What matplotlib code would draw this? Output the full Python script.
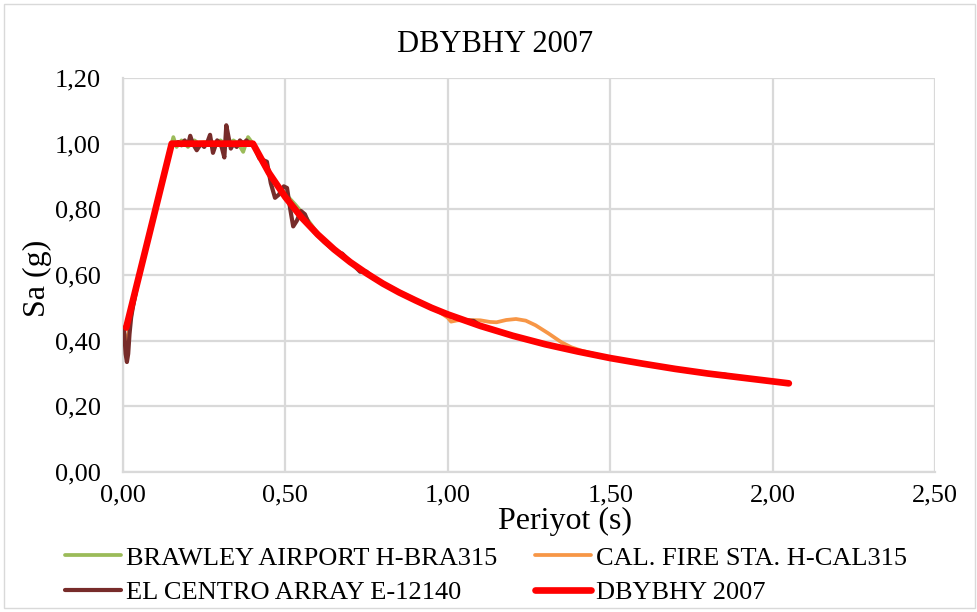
import matplotlib
matplotlib.use("Agg")
import matplotlib.pyplot as plt
from matplotlib.patches import Rectangle

plt.rcParams['font.family'] = ['Liberation Serif', 'DejaVu Serif']

# design spectrum DBYBHY 2007
dbybhy_t = [0.01, 0.15, 0.40, 0.45, 0.50, 0.55, 0.60, 0.65, 0.70, 0.75, 0.80, 0.85,
            0.90, 0.95, 1.00, 1.10, 1.20, 1.30, 1.40, 1.50, 1.60, 1.70, 1.80,
            1.90, 2.00, 2.05]
dbybhy_sa = [0.44, 1.00, 1.00, 0.910, 0.837, 0.775, 0.723, 0.678, 0.639, 0.605,
             0.574, 0.547, 0.523, 0.500, 0.480, 0.445, 0.415, 0.389, 0.367,
             0.347, 0.330, 0.314, 0.300, 0.288, 0.276, 0.270]

# BRAWLEY AIRPORT H-BRA315
brawley_t = [0.01, 0.05, 0.10, 0.14, 0.155, 0.165, 0.18, 0.20, 0.22, 0.24, 0.26,
             0.28, 0.30, 0.32, 0.34, 0.355, 0.37, 0.385, 0.40, 0.43, 0.46, 0.50,
             0.53, 0.56, 0.60, 0.65, 0.70, 0.75, 0.80, 0.90, 1.00, 1.10, 1.20,
             1.30, 1.40, 1.50, 1.60, 1.70, 1.80, 1.90, 2.00, 2.05]
brawley_sa = [0.44, 0.60, 0.80, 0.96, 1.02, 0.99, 1.01, 0.99, 1.01, 0.995, 1.005,
              0.99, 1.01, 0.995, 1.01, 1.00, 0.975, 1.02, 1.00, 0.94, 0.89, 0.847,
              0.815, 0.78, 0.726, 0.68, 0.64, 0.605, 0.575, 0.525, 0.48, 0.445,
              0.415, 0.39, 0.367, 0.347, 0.33, 0.314, 0.30, 0.288, 0.276, 0.27]

# CAL. FIRE STA. H-CAL315
calfire_t = [0.005, 0.01, 0.015, 0.02, 0.05, 0.10, 0.15, 0.20, 0.25, 0.30, 0.35,
             0.40, 0.45, 0.50, 0.60, 0.70, 0.80, 0.90, 0.97, 1.00, 1.01, 1.03,
             1.06, 1.10, 1.13, 1.15, 1.18, 1.21, 1.24, 1.27, 1.31, 1.35, 1.38,
             1.41, 1.50, 1.60, 1.70, 1.80, 1.90, 2.00, 2.05]
calfire_sa = [0.42, 0.37, 0.40, 0.45, 0.60, 0.80, 1.00, 1.00, 1.005, 0.995, 1.00,
              1.00, 0.91, 0.835, 0.72, 0.64, 0.575, 0.525, 0.49, 0.47, 0.458,
              0.462, 0.463, 0.462, 0.457, 0.456, 0.463, 0.466, 0.461, 0.447,
              0.422, 0.395, 0.38, 0.37, 0.347, 0.33, 0.314, 0.30, 0.288, 0.276,
              0.27]

# EL CENTRO ARRAY E-12140
elcentro_t = [0.003, 0.008, 0.012, 0.016, 0.02, 0.025, 0.03, 0.05, 0.10, 0.15,
              0.16, 0.17, 0.18, 0.19, 0.20, 0.207, 0.215, 0.227, 0.24, 0.25, 0.26,
              0.268, 0.277, 0.29, 0.30, 0.305, 0.312, 0.318, 0.325, 0.332, 0.34,
              0.35, 0.36, 0.37, 0.38, 0.39, 0.40, 0.42, 0.443, 0.455, 0.468,
              0.48, 0.495, 0.505, 0.515, 0.524, 0.535, 0.548, 0.56, 0.575, 0.59,
              0.62, 0.65, 0.675, 0.70, 0.73, 0.75, 0.77, 0.80, 0.85, 0.90, 0.95,
              1.00, 1.05, 1.08, 1.10, 1.20, 1.30, 1.40, 1.50, 1.60, 1.70, 1.80,
              1.85, 1.90, 2.00, 2.05]
elcentro_sa = [0.44, 0.36, 0.335, 0.36, 0.42, 0.47, 0.50, 0.60, 0.80, 1.00,
               1.00, 1.005, 0.995, 1.01, 0.995, 1.024, 1.00, 0.98, 1.00, 0.99,
               1.005, 1.027, 0.972, 1.01, 1.00, 0.985, 0.958, 1.056, 1.02, 0.985,
               1.00, 0.99, 1.01, 1.00, 1.01, 1.00, 1.00, 0.955, 0.945, 0.88,
               0.835, 0.845, 0.87, 0.865, 0.80, 0.748, 0.765, 0.795, 0.785, 0.75,
               0.73, 0.70, 0.675, 0.665, 0.64, 0.61, 0.61, 0.59, 0.575, 0.547,
               0.523, 0.50, 0.48, 0.462, 0.46, 0.445, 0.415, 0.389, 0.367, 0.347,
               0.33, 0.314, 0.30, 0.297, 0.288, 0.276, 0.27]

x_ticks = [0.0, 0.5, 1.0, 1.5, 2.0, 2.5]
x_labels = ['0,00', '0,50', '1,00', '1,50', '2,00', '2,50']
y_ticks = [0.0, 0.2, 0.4, 0.6, 0.8, 1.0, 1.2]
y_labels = ['0,00', '0,20', '0,40', '0,60', '0,80', '1,00', '1,20']

fig = plt.figure(figsize=(9.77, 6.12), dpi=100)
ax = fig.add_axes([123/977, 1-472/612, (935-123)/977, (472-78)/612])

grid_c = '#D9D9D9'
round_ = dict(solid_capstyle='round', solid_joinstyle='round')
l_bra, = ax.plot(brawley_t, brawley_sa, color='#9BBB59', lw=2.7,
                 label='BRAWLEY AIRPORT H-BRA315', zorder=3, **round_)
l_cal, = ax.plot(calfire_t, calfire_sa, color='#F79646', lw=2.7,
                 label='CAL. FIRE STA. H-CAL315', zorder=3, **round_)
l_elc, = ax.plot(elcentro_t, elcentro_sa, color='#772C2A', lw=3.0,
                 label='EL CENTRO ARRAY E-12140', zorder=4, **round_)
l_dby, = ax.plot(dbybhy_t, dbybhy_sa, color='#FF0000', lw=4.8,
                 label='DBYBHY 2007', zorder=5, **round_)

ax.set_xlim(0, 2.5)
ax.set_ylim(0, 1.2)
ax.set_xticks(x_ticks)
ax.set_xticklabels(x_labels)
ax.set_yticks(y_ticks)
ax.set_yticklabels(y_labels)
ax.tick_params(axis='both', length=0, labelsize=19, colors='black')
ax.tick_params(axis='x', pad=9)
ax.tick_params(axis='y', pad=16)
ax.grid(True, color=grid_c, lw=1.6)
ax.set_axisbelow(True)
for s in ['top', 'right']:
    ax.spines[s].set_visible(False)
for s in ['left', 'bottom']:
    ax.spines[s].set_color(grid_c)
    ax.spines[s].set_linewidth(1.6)

fig.text(495/977, 1-45/612, 'DBYBHY 2007', ha='center', va='center', fontsize=22)
fig.text(565/977, 1-521/612, 'Periyot (s)', ha='center', va='center', fontsize=23)
fig.text(37/977, 1-278/612, 'Sa (g)', ha='center', va='center', fontsize=23, rotation=90)

# legend fills row by row: BRAWLEY, CAL. FIRE / EL CENTRO, DBYBHY
handles = [l_bra, l_elc, l_cal, l_dby]
fig.legend(handles, [h.get_label() for h in handles], ncol=2, loc='upper left',
           bbox_to_anchor=(52/977, 1-533/612), frameon=False, fontsize=19,
           handlelength=2.1, handletextpad=0.2, columnspacing=1.45,
           labelspacing=0.42, borderpad=0)

fig.patches.append(Rectangle((4/977, 4/612), 971/977, 604/612, transform=fig.transFigure,
                             fill=False, edgecolor=grid_c, lw=1))

fig.savefig('out.png', dpi=100)
